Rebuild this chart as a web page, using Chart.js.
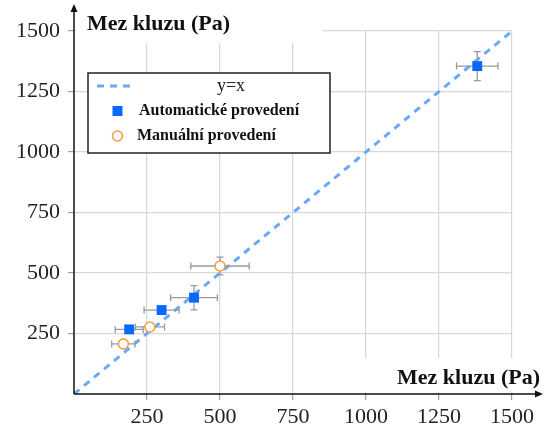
<!DOCTYPE html>
<html lang="cs">
<head>
<meta charset="UTF-8">
<title>Mez kluzu</title>
<script src="https://cdn.jsdelivr.net/npm/chart.js"></script>
<style>
  body { margin: 0; background: #fff; }
</style>
</head>
<body>
<canvas id="chart" width="552" height="430"></canvas>
<script>
// ticks shown on both axes (0 is not labelled)
const tickValues = [250, 500, 750, 1000, 1250, 1500];

// reference line y = x
const lineX = [0, 1500];

// Automatické provedení
const autoX = [189, 300, 411, 1381];
const autoY = [267, 347, 398, 1355];
const autoXErr = [48, 60, 80, 71];
const autoYErr = [15, 15, 50, 60];

// Manuální provedení
const manX = [169, 260, 500];
const manY = [207, 277, 529];
const manXErr = [40, 50, 100];
const manYErr = [10, 10, 37];

const serif = '"Liberation Serif", "DejaVu Serif", serif';
const lineColor = '#6aa9f7';
const autoColor = '#0a68ff';
const manColor = '#f6a045';

// error bars, drawn just before the points of each dataset
const errorBars = {
  id: 'errorBars',
  beforeDatasetDraw(chart, args) {
    const ds = chart.data.datasets[args.index];
    if (!ds.xErr) return;
    const ctx = chart.ctx;
    const sx = chart.scales.x, sy = chart.scales.y;
    const cap = 3.5;
    ctx.save();
    ctx.strokeStyle = '#9a9a9a';
    ctx.lineWidth = 1.3;
    ds.data.forEach((p, i) => {
      const px = sx.getPixelForValue(p.x), py = sy.getPixelForValue(p.y);
      const x0 = sx.getPixelForValue(p.x - ds.xErr[i]);
      const x1 = sx.getPixelForValue(p.x + ds.xErr[i]);
      const y0 = sy.getPixelForValue(p.y - ds.yErr[i]);
      const y1 = sy.getPixelForValue(p.y + ds.yErr[i]);
      ctx.beginPath();
      ctx.moveTo(x0, py); ctx.lineTo(x1, py);
      ctx.moveTo(x0, py - cap); ctx.lineTo(x0, py + cap);
      ctx.moveTo(x1, py - cap); ctx.lineTo(x1, py + cap);
      ctx.moveTo(px, y0); ctx.lineTo(px, y1);
      ctx.moveTo(px - cap, y0); ctx.lineTo(px + cap, y0);
      ctx.moveTo(px - cap, y1); ctx.lineTo(px + cap, y1);
      ctx.stroke();
    });
    ctx.restore();
  }
};

// axes with arrows, axis titles and the boxed legend
const decor = {
  id: 'decor',
  afterDraw(chart) {
    const ctx = chart.ctx;
    const a = chart.chartArea;
    ctx.save();

    // white label backgrounds over the grid
    ctx.fillStyle = '#fff';
    ctx.fillRect(a.left + 2, 0, 247, 43);
    ctx.fillRect(362, 358, 190, 34);

    ctx.fillStyle = '#111';
    ctx.font = 'bold 22px ' + serif;
    ctx.textBaseline = 'middle';
    ctx.textAlign = 'left';
    ctx.fillText('Mez kluzu (Pa)', 87, 24);
    ctx.textAlign = 'right';
    ctx.fillText('Mez kluzu (Pa)', 540, 378);

    // axes
    ctx.strokeStyle = '#111';
    ctx.lineWidth = 1.5;
    ctx.beginPath();
    ctx.moveTo(a.left, a.bottom); ctx.lineTo(a.left, 9);
    ctx.moveTo(a.left, a.bottom); ctx.lineTo(538, a.bottom);
    ctx.stroke();
    ctx.beginPath();
    ctx.moveTo(a.left, 4); ctx.lineTo(a.left - 3.5, 12); ctx.lineTo(a.left + 3.5, 12); ctx.closePath();
    ctx.moveTo(543, a.bottom); ctx.lineTo(535, a.bottom - 3.5); ctx.lineTo(535, a.bottom + 3.5); ctx.closePath();
    ctx.fill();

    // legend
    const lx = 88, ly = 73, lw = 242, lh = 80;
    ctx.fillStyle = '#fff';
    ctx.fillRect(lx, ly, lw, lh);
    ctx.strokeStyle = '#222';
    ctx.lineWidth = 1.5;
    ctx.strokeRect(lx, ly, lw, lh);

    const ds = chart.data.datasets;
    // row 1: dashed line
    ctx.strokeStyle = lineColor;
    ctx.lineWidth = 3;
    ctx.setLineDash([7, 6]);
    ctx.beginPath();
    ctx.moveTo(97, 86); ctx.lineTo(134, 86);
    ctx.stroke();
    ctx.setLineDash([]);
    ctx.fillStyle = '#222';
    ctx.font = '18px ' + serif;
    ctx.textAlign = 'center';
    ctx.fillText(ds[0].label, 231, 86);

    // row 2: square
    ctx.fillStyle = autoColor;
    ctx.fillRect(112.5, 106, 10, 10);
    ctx.fillStyle = '#111';
    ctx.font = 'bold 16px ' + serif;
    ctx.textAlign = 'left';
    ctx.fillText(ds[1].label, 139, 111);

    // row 3: open circle
    ctx.strokeStyle = manColor;
    ctx.lineWidth = 1.6;
    ctx.fillStyle = '#fff';
    ctx.beginPath();
    ctx.arc(117.5, 136, 5, 0, Math.PI * 2);
    ctx.fill();
    ctx.stroke();
    ctx.fillStyle = '#111';
    ctx.fillText(ds[2].label, 137, 136);

    ctx.restore();
  }
};

function axis(size, fit) {
  return {
    type: 'linear',
    min: 0,
    max: 1500,
    afterBuildTicks: s => { s.ticks = tickValues.map(v => ({ value: v })); },
    afterFit: fit,
    border: { display: false },
    grid: { color: '#d8d8d8', lineWidth: 1.2, tickLength: 6, tickColor: '#a0a0a0' },
    ticks: {
      color: '#222',
      font: { family: serif, size: 22 },
      padding: size,
      maxRotation: 0,
      callback: v => String(v)
    }
  };
}

new Chart(document.getElementById('chart'), {
  type: 'scatter',
  data: {
    datasets: [
      {
        type: 'line',
        label: 'y=x',
        data: lineX.map(v => ({ x: v, y: v })),
        borderColor: lineColor,
        borderWidth: 3,
        borderDash: [7, 6],
        pointRadius: 0,
        order: 3
      },
      {
        label: 'Automatické provedení',
        data: autoX.map((x, i) => ({ x: x, y: autoY[i] })),
        xErr: autoXErr,
        yErr: autoYErr,
        pointStyle: 'rect',
        pointRadius: 7,
        backgroundColor: autoColor,
        borderColor: autoColor,
        borderWidth: 0,
        order: 2
      },
      {
        label: 'Manuální provedení',
        data: manX.map((x, i) => ({ x: x, y: manY[i] })),
        xErr: manXErr,
        yErr: manYErr,
        pointStyle: 'circle',
        pointRadius: 5,
        backgroundColor: '#fff',
        borderColor: manColor,
        borderWidth: 1.6,
        order: 1
      }
    ]
  },
  options: {
    responsive: false,
    animation: false,
    devicePixelRatio: 1,
    layout: { padding: { top: 31, right: 40, left: 0, bottom: 0 } },
    plugins: { legend: { display: false }, tooltip: { enabled: false } },
    scales: {
      x: axis(4, s => { s.height = 36; }),
      y: axis(8, s => { s.width = 74; })
    }
  },
  plugins: [errorBars, decor]
});
</script>
</body>
</html>
